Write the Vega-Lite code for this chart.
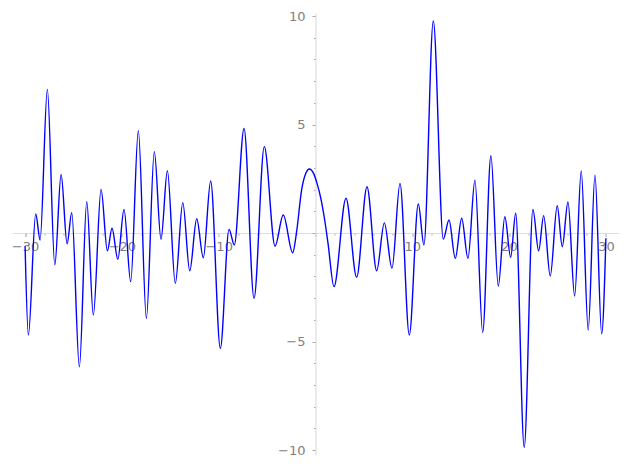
{
  "$schema": "https://vega.github.io/schema/vega-lite/v6.json",
  "width": 606,
  "height": 442,
  "autosize": {"type": "none"},
  "padding": {"left": 12.5, "top": 13, "right": 8.5, "bottom": 13},
  "background": "white",
  "config": {
    "view": {"stroke": null},
    "axis": {
      "grid": false,
      "labelFont": "DejaVu Sans",
      "labelFontSize": 13,
      "labelColor": "#808080",
      "tickColor": "#aaaaaa",
      "domainColor": "#dddddd",
      "domainWidth": 1.2,
      "title": null
    }
  },
  "data": {
    "values": [
      {"x": -30, "y": -0.6},
      {"x": -29.66, "y": -4.7},
      {"x": -28.9, "y": 0.88},
      {"x": -28.45, "y": -0.32},
      {"x": -27.7, "y": 6.62},
      {"x": -26.93, "y": -1.47},
      {"x": -26.28, "y": 2.7},
      {"x": -25.66, "y": -0.5},
      {"x": -25.18, "y": 0.94},
      {"x": -24.39, "y": -6.16},
      {"x": -23.63, "y": 1.44},
      {"x": -22.95, "y": -3.78},
      {"x": -22.15, "y": 2.01},
      {"x": -21.5, "y": -0.82},
      {"x": -21.02, "y": 0.22},
      {"x": -20.42, "y": -1.21},
      {"x": -19.78, "y": 1.09},
      {"x": -19.09, "y": -2.24},
      {"x": -18.3, "y": 4.71},
      {"x": -17.47, "y": -3.93},
      {"x": -16.65, "y": 3.75},
      {"x": -15.96, "y": -0.29},
      {"x": -15.3, "y": 2.87},
      {"x": -14.48, "y": -2.32},
      {"x": -13.71, "y": 1.4},
      {"x": -12.99, "y": -1.74},
      {"x": -12.27, "y": 0.66},
      {"x": -11.59, "y": -1.14},
      {"x": -10.83, "y": 2.4},
      {"x": -9.83, "y": -5.31},
      {"x": -8.93, "y": 0.17},
      {"x": -8.39, "y": -0.55},
      {"x": -7.38, "y": 4.82},
      {"x": -6.35, "y": -3.01},
      {"x": -5.29, "y": 3.98},
      {"x": -4.18, "y": -0.6},
      {"x": -3.33, "y": 0.83},
      {"x": -2.36, "y": -0.91},
      {"x": -1.94, "y": 0.1},
      {"x": -1.43, "y": 2.0},
      {"x": -1.0, "y": 2.75},
      {"x": -0.64, "y": 2.95},
      {"x": -0.2, "y": 2.75},
      {"x": 0.15, "y": 2.3},
      {"x": 0.55, "y": 1.6},
      {"x": 0.95, "y": 0.6},
      {"x": 1.3, "y": -0.5},
      {"x": 1.91, "y": -2.47},
      {"x": 3.15, "y": 1.6},
      {"x": 4.25, "y": -2.04},
      {"x": 5.32, "y": 2.13},
      {"x": 6.32, "y": -1.74},
      {"x": 7.11, "y": 0.47},
      {"x": 7.9, "y": -1.63},
      {"x": 8.73, "y": 2.29},
      {"x": 9.69, "y": -4.7},
      {"x": 10.62, "y": 1.34},
      {"x": 11.2, "y": -0.55},
      {"x": 12.17, "y": 9.77},
      {"x": 13.2, "y": -0.28},
      {"x": 13.79, "y": 0.6},
      {"x": 14.44, "y": -1.17},
      {"x": 15.1, "y": 0.68},
      {"x": 15.75, "y": -1.17},
      {"x": 16.47, "y": 2.44},
      {"x": 17.27, "y": -4.58},
      {"x": 18.12, "y": 3.56},
      {"x": 18.88, "y": -2.44},
      {"x": 19.56, "y": 0.75},
      {"x": 20.16, "y": -1.12},
      {"x": 20.68, "y": 0.91},
      {"x": 21.56, "y": -9.88},
      {"x": 22.46, "y": 1.09},
      {"x": 23.05, "y": -0.82},
      {"x": 23.57, "y": 0.8},
      {"x": 24.25, "y": -1.98},
      {"x": 24.97, "y": 1.26},
      {"x": 25.49, "y": -0.63},
      {"x": 26.08, "y": 1.43},
      {"x": 26.77, "y": -2.9},
      {"x": 27.45, "y": 2.86},
      {"x": 28.17, "y": -4.47},
      {"x": 28.87, "y": 2.67},
      {"x": 29.56, "y": -4.65},
      {"x": 30, "y": -0.24}
    ]
  },
  "layer": [
    {
      "mark": {"type": "line", "strokeOpacity": 0, "interpolate": "monotone"},
      "encoding": {
        "x": {
          "field": "x", "type": "quantitative",
          "scale": {"domain": [-31.3, 31.3], "nice": false, "zero": false},
          "axis": {
            "orient": "bottom",
            "values": [-30,-28,-26,-24,-22,-18,-16,-14,-12,-8,-6,-4,-2,2,4,6,8,12,14,16,18,22,24,26,28],
            "labels": false, "domain": false, "tickSize": 2, "offset": -222
          }
        },
        "y": {
          "field": "y", "type": "quantitative",
          "scale": {"domain": [-10.23, 10.14], "nice": false, "zero": false},
          "axis": {
            "orient": "left",
            "values": [-9,-8,-7,-6,-4,-3,-2,-1,1,2,3,4,6,7,8,9],
            "labels": false, "domain": false, "tickSize": 2, "offset": -303
          }
        }
      }
    },
    {
      "mark": {"type": "line", "color": "#0000ff", "strokeWidth": 1.4, "interpolate": "monotone"},
      "encoding": {
        "x": {
          "field": "x", "type": "quantitative",
          "axis": {
            "orient": "bottom",
            "values": [-30,-20,-10,0,10,20,30],
            "labelExpr": "datum.value == 0 ? '' : datum.label",
            "tickSize": 3.5, "labelPadding": 4, "offset": -222
          }
        },
        "y": {
          "field": "y", "type": "quantitative",
          "axis": {
            "orient": "left",
            "values": [-10,-5,0,5,10],
            "labelExpr": "datum.value == 0 ? '' : datum.label",
            "tickSize": 3.5, "labelPadding": 7, "offset": -303
          }
        }
      }
    }
  ],
  "resolve": {"axis": {"x": "independent", "y": "independent"}}
}
